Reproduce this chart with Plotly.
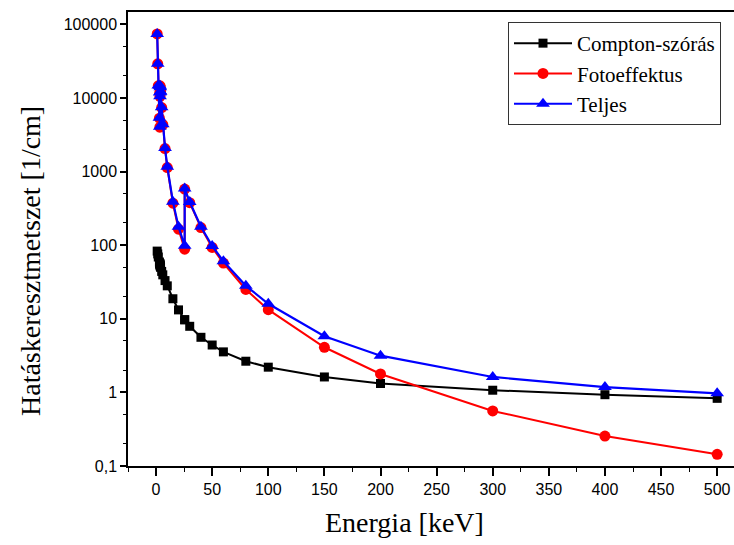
import plotly.graph_objects as go

# Photon energy [keV] (duplicates = absorption edges)
energy = [1, 1.5, 2, 3, 3.351, 3.351, 3.524, 3.524, 3.806, 3.806, 4, 5, 6, 8, 10,
          15, 20, 25.51, 25.51, 30, 40, 50, 60, 80, 100, 150, 200, 300, 400, 500]

compton = [83, 76, 69, 59, 56, 56, 54, 54, 52, 52, 50, 44, 39.5, 33, 28,
           18.7, 13.2, 9.7, 9.7, 7.9, 5.6, 4.4, 3.55, 2.65, 2.2, 1.62, 1.32, 1.07, 0.93, 0.83]

photo = [74000, 29000, 14600, 5300, 4000, 11800, 10500, 14600, 12100, 13900, 12200, 7400, 4350, 2050, 1130,
         372, 165, 88, 578, 377, 173, 93, 57, 25, 13.3, 4.1, 1.78, 0.56, 0.255, 0.144]

total = [74100, 29100, 14700, 5360, 4060, 11860, 10550, 14650, 12150, 13950, 12250, 7440, 4390, 2080, 1160,
         390, 178, 98, 588, 385, 178, 97.5, 60.5, 28, 16, 5.8, 3.15, 1.62, 1.18, 0.97]

series_names = ["Compton-szórás", "Fotoeffektus", "Teljes"]

x_tickvals = [0, 50, 100, 150, 200, 250, 300, 350, 400, 450, 500]
y_tickvals = [0.1, 1, 10, 100, 1000, 10000, 100000]
y_ticktext = ["0,1", "1", "10", "100", "1000", "10000", "100000"]

x_title = "Energia [keV]"
y_title = "Hatáskeresztmetszet [1/cm]"

SERIF = "Liberation Serif, Times New Roman, serif"

fig = go.Figure()
fig.add_trace(go.Scatter(x=energy, y=compton, name=series_names[0], mode="lines+markers",
                         line=dict(color="black", width=2),
                         marker=dict(symbol="square", size=9, color="black")))
fig.add_trace(go.Scatter(x=energy, y=photo, name=series_names[1], mode="lines+markers",
                         line=dict(color="#FF0000", width=2),
                         marker=dict(symbol="circle", size=11, color="#FF0000")))
fig.add_trace(go.Scatter(x=energy, y=total, name=series_names[2], mode="lines+markers",
                         line=dict(color="#0000FF", width=2.2),
                         marker=dict(symbol="triangle-up", size=12, color="#0000FF")))

tickfont = dict(family="Liberation Sans", size=16, color="black")

fig.update_layout(
    width=734, height=545,
    margin=dict(l=128, r=0, t=12, b=79, autoexpand=False),
    paper_bgcolor="white", plot_bgcolor="white",
    showlegend=True,
    legend=dict(x=(508 - 128) / 606, y=(466 - 22) / 454, xanchor="left", yanchor="top",
                bgcolor="white", bordercolor="#333", borderwidth=1,
                font=dict(family=SERIF, size=21, color="black"),
                tracegroupgap=0, itemwidth=58),
    xaxis=dict(range=[-25, 515], tickvals=x_tickvals, ticks="outside", ticklen=8, tickwidth=1.5,
               tickcolor="black", showline=True, linecolor="black", linewidth=1.5, mirror=True,
               showgrid=False, zeroline=False, tickfont=tickfont, automargin=False,
               minor=dict(dtick=25, ticks="outside", ticklen=4, tickwidth=1, tickcolor="black")),
    yaxis=dict(type="log", range=[-1, 5.167], tickvals=y_tickvals, ticktext=y_ticktext,
               ticks="outside", ticklen=6, tickwidth=1.5, tickcolor="black",
               showline=True, linecolor="black", linewidth=1.5, mirror=False,
               showgrid=False, zeroline=False, tickfont=tickfont, automargin=False,
               minor=dict(ticks="outside", ticklen=3, tickwidth=1, tickcolor="black", showgrid=False)),
    annotations=[
        dict(text=x_title, xref="paper", yref="paper", x=(404 - 128) / 606, y=-(522 - 466) / 454,
             xanchor="center", yanchor="middle", showarrow=False,
             font=dict(family=SERIF, size=28, color="black")),
        dict(text=y_title, xref="paper", yref="paper", x=-(128 - 30) / 606, y=(466 - 261) / 454,
             xanchor="center", yanchor="middle", showarrow=False, textangle=-90,
             font=dict(family=SERIF, size=28, color="black")),
    ],
)

fig.write_html("out.html", config={"displayModeBar": False},
               post_script="document.body.style.margin='0';document.body.style.padding='0';"
                           "document.documentElement.style.overflow='hidden';")
